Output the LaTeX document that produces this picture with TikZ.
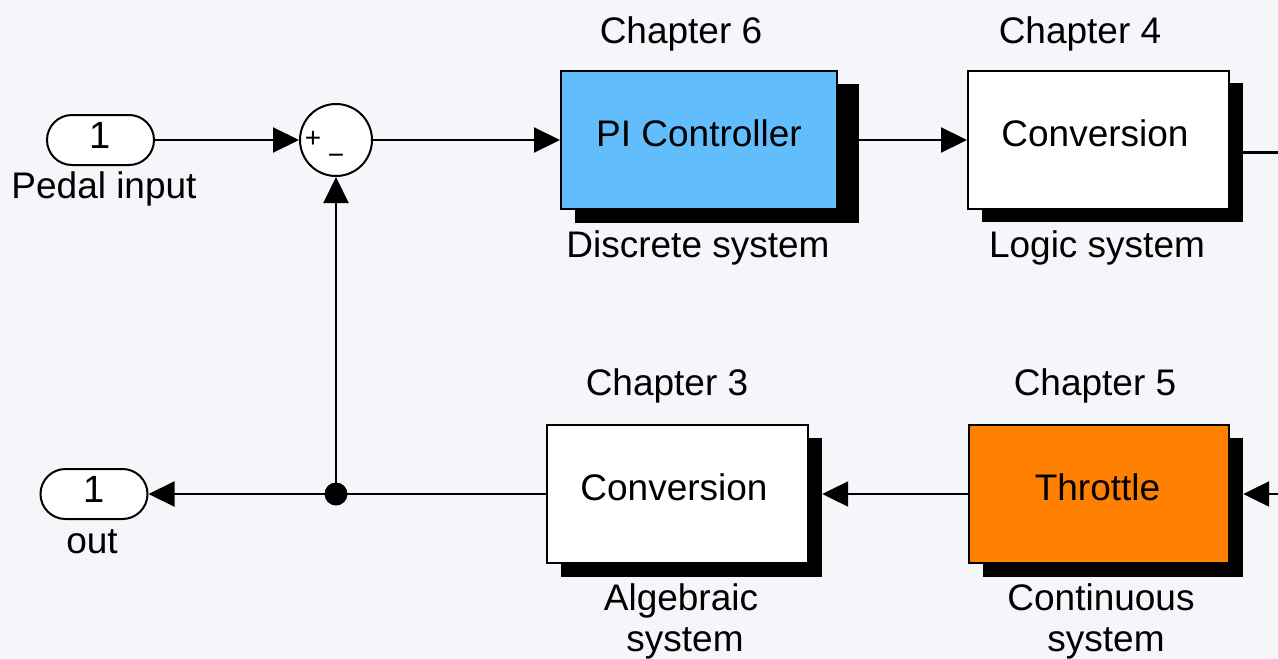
\documentclass[tikz,border=0pt]{standalone}
\usepackage{fontspec}
\setmainfont{Liberation Sans}
\usetikzlibrary{arrows.meta}
\definecolor{bg}{HTML}{F5F6FA}
\definecolor{piblue}{HTML}{62BDFC}
\definecolor{thrott}{HTML}{FF8000}
\tikzset{
  txtshift/.store in=\blkshift, txtshift=-7pt,
  txt/.style={font=\fontsize{37}{44}\selectfont, inner sep=0pt},
  lbl/.style={txt, anchor=base},
  blk/.style={draw, line width=2pt, fill=white, inner sep=0pt,
    minimum width=261pt, minimum height=138pt,
    font=\fontsize{37}{44}\selectfont, text height=27pt, text depth=15pt,
    execute at begin node={\hspace*{\blkshift}}},
  shadowbox/.style={fill=black, inner sep=0pt},
  port/.style={draw, line width=2pt, fill=white, rounded corners=25pt,
    minimum width=107pt, minimum height=50pt, inner sep=0pt,
    font=\fontsize{38}{44}\selectfont, text height=27pt, text depth=11pt},
  sig/.style={line width=2.2pt, -{Triangle[length=26pt,width=25pt]}},
  wire/.style={line width=2.2pt},
}
\begin{document}
\begin{tikzpicture}[x=1pt, y=-1pt]
  % canvas
  \fill[bg] (0,0) rectangle (1278,659);
  \useasboundingbox (0,0) rectangle (1278,659);

  % drop shadows of the blocks
  \node[shadowbox, minimum width=284pt, minimum height=139pt] (pish) at (717,153.5) {};
  \node[shadowbox, minimum width=261pt, minimum height=139pt] (conv1sh) at (1112.5,152.5) {};
  \node[shadowbox, minimum width=261pt, minimum height=139pt] (conv2sh) at (691.5,507.5) {};
  \node[shadowbox, minimum width=260pt, minimum height=139pt] (thrsh) at (1113,507.5) {};

  % blocks
  \node[blk, fill=piblue, minimum width=276pt, txtshift=0pt] (pi) at (699,140) {PI Controller};
  \node[blk] (conv1) at (1098.5,140) {Conversion};
  \node[blk] (conv2) at (677.5,494) {Conversion};
  \node[blk, fill=thrott, minimum width=260pt, txtshift=-3pt] (thr) at (1099,494) {Throttle};

  % ports
  \node[port] (inp) at (100.5,140) {1};
  \node[port] (outp) at (94,494) {1};

  % summing junction
  \node[draw, circle, line width=2pt, fill=white, minimum size=72pt, inner sep=0pt] (sum) at (336,140) {};
  \node[font=\fontsize{28}{30}\selectfont, inner sep=0pt] (plus) at (313,139) {+};
  \node[font=\fontsize{28}{30}\selectfont, inner sep=0pt] (minus) at (336,159) {−};

  % labels
  \node[lbl] (lin) at (104,198) {Pedal input};
  \node[lbl] (lout) at (92,553) {out};
  \node[lbl] (ch6) at (681,43) {Chapter 6};
  \node[lbl] (ch4) at (1080,43) {Chapter 4};
  \node[lbl] (ldisc) at (698,257) {Discrete system};
  \node[lbl] (llogic) at (1097,257) {Logic system};
  \node[lbl] (ch3) at (667,395) {Chapter 3};
  \node[lbl] (ch5) at (1095,395) {Chapter 5};
  \node[lbl] (lalg) at (681,610) {Algebraic};
  \node[lbl] (lalg2) at (685,651) {system};
  \node[lbl] (lcont) at (1101,610) {Continuous};
  \node[lbl] (lcont2) at (1106,651) {system};

  % loose ends at the right border
  \coordinate (rtop) at (1280,152.5);
  \coordinate (rbot) at (1280,494);

  % signal lines
  \draw[sig] (inp) -- (sum);
  \draw[sig] (sum) -- (pi);
  \draw[sig] (pish.east |- pi) -- (conv1.west);
  \draw[wire] (conv1sh.east) -- (rtop);
  \draw[sig] (rbot) -- (thrsh.east |- rbot);
  \draw[sig] (thr.west) -- (conv2sh.east |- thr.west);
  \draw[sig] (conv2.west) -- (outp.east);
  \node[circle, fill=black, minimum size=23pt, inner sep=0pt] (jn) at (336,494) {};
  \draw[sig] (jn.center) -- (sum.south);
\end{tikzpicture}
\end{document}
